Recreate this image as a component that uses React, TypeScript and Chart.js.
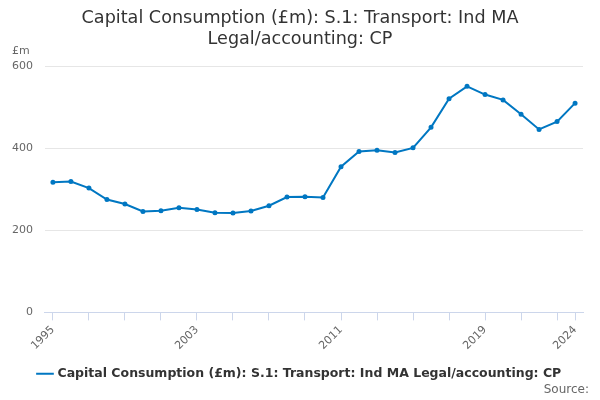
import { useEffect, useRef } from "react";
import { Chart, registerables, type Plugin } from "chart.js";

Chart.register(...registerables);

const years = [
  1995, 1996, 1997, 1998, 1999, 2000, 2001, 2002, 2003, 2004, 2005, 2006, 2007,
  2008, 2009, 2010, 2011, 2012, 2013, 2014, 2015, 2016, 2017, 2018, 2019, 2020,
  2021, 2022, 2023, 2024,
];
const values = [
  317, 319, 303, 275, 264, 246, 248, 255, 251, 243, 242, 247, 260, 281, 282,
  280, 355, 392, 395, 390, 401, 451, 521, 551, 531, 518, 483, 446, 465, 510,
];
const xTickMarks = [
  1995, 1997, 1999, 2001, 2003, 2005, 2007, 2009, 2011, 2013, 2015, 2017, 2019,
  2021, 2023, 2024,
];
const xTickLabels = [1995, 2003, 2011, 2019, 2024];
const yTicks = [0, 200, 400, 600];

const seriesName =
  "Capital Consumption (£m): S.1: Transport: Ind MA Legal/accounting: CP";
const titleLines = [
  "Capital Consumption (£m): S.1: Transport: Ind MA",
  "Legal/accounting: CP",
];

const font = "'DejaVu Sans', sans-serif";
const lineColor = "#0077c2";

const extras: Plugin<"line"> = {
  id: "extras",
  afterDraw(chart) {
    const { ctx } = chart;
    ctx.save();
    ctx.font = `11px ${font}`;
    ctx.fillStyle = "#666666";
    ctx.textAlign = "left";
    ctx.textBaseline = "middle";
    ctx.fillText("£m", 12, 51);
    ctx.font = `12px ${font}`;
    ctx.textAlign = "right";
    ctx.fillText("Source:", 589, 390);
    ctx.restore();
  },
};

export default function App() {
  const canvasRef = useRef<HTMLCanvasElement | null>(null);

  useEffect(() => {
    document.body.style.margin = "0";
    if (!canvasRef.current) return;
    const chart = new Chart(canvasRef.current, {
      type: "line",
      data: {
        datasets: [
          {
            label: seriesName,
            data: years.map((y, i) => ({ x: y, y: values[i] })),
            borderColor: lineColor,
            backgroundColor: lineColor,
            borderWidth: 2,
            pointRadius: 1.5,
            pointHoverRadius: 2,
            tension: 0,
          },
        ],
      },
      options: {
        animation: false,
        responsive: false,
        layout: { padding: { left: 0, right: 0, top: 0, bottom: 10 } },
        plugins: {
          title: {
            display: true,
            text: titleLines,
            color: "#333333",
            font: { family: font, size: 17.6, weight: "normal" },
            padding: { top: 8, bottom: 16 },
          },
          legend: {
            position: "bottom",
            labels: {
              color: "#333333",
              font: { family: font, size: 12.5, weight: "bold" },
              usePointStyle: true,
              pointStyle: "line",
              boxWidth: 16,
              padding: 12,
            },
          },
          tooltip: { enabled: false },
        },
        scales: {
          x: {
            type: "linear",
            min: 1994.56,
            max: 2024.44,
            afterBuildTicks: (axis) => {
              axis.ticks = xTickMarks.map((v) => ({ value: v }));
            },
            ticks: {
              autoSkip: false,
              minRotation: 45,
              maxRotation: 45,
              color: "#666666",
              font: { family: font, size: 11 },
              callback: (v) =>
                xTickLabels.includes(Number(v)) ? String(v) : "",
            },
            grid: {
              drawOnChartArea: false,
              drawTicks: true,
              tickLength: 8,
              color: "#ccd6eb",
            },
            border: { color: "#ccd6eb" },
          },
          y: {
            min: 0,
            max: 600,
            afterBuildTicks: (axis) => {
              axis.ticks = yTicks.map((v) => ({ value: v }));
            },
            ticks: {
              color: "#666666",
              font: { family: font, size: 11 },
              padding: 12,
            },
            grid: { color: "#e6e6e6", drawTicks: false },
            border: { display: false },
          },
          yRight: {
            position: "right",
            min: 0,
            max: 600,
            ticks: { display: false },
            grid: { display: false },
            border: { display: false },
            afterFit: (axis) => {
              axis.width = 17;
            },
          },
        },
      },
      plugins: [extras],
    });
    return () => chart.destroy();
  }, []);

  return (
    <div style={{ width: 600, height: 400 }}>
      <canvas ref={canvasRef} width={600} height={400} />
    </div>
  );
}
